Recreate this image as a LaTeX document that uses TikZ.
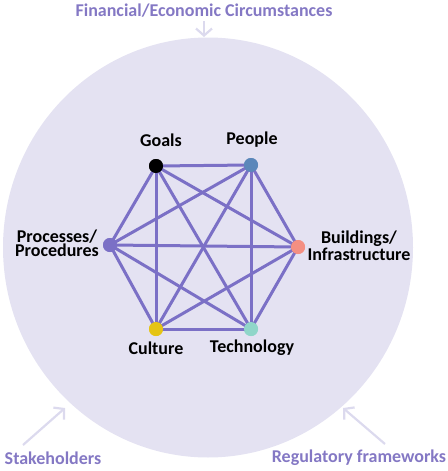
\documentclass[tikz,border=0pt]{standalone}
\usepackage{fontspec}
\setmainfont{Carlito}
\usetikzlibrary{arrows.meta}
\definecolor{bgfill}{HTML}{E4E2F2}
\definecolor{edgec}{HTML}{7B70C6}
\definecolor{outertxt}{HTML}{8478C4}
\definecolor{arrc}{HTML}{DCDAEE}
\definecolor{cpeople}{HTML}{5B87BA}
\definecolor{cproc}{HTML}{7B70C6}
\definecolor{cbuild}{HTML}{F48F82}
\definecolor{ccult}{HTML}{E5C414}
\definecolor{ctech}{HTML}{90D6C9}
\tikzset{
  dot/.style={circle,inner sep=0pt,minimum size=14pt},
  lbl/.style={font=\fontsize{18}{13.5}\selectfont\bfseries,text=black,inner sep=0pt,align=center},
  outer/.style={font=\fontsize{18}{13.5}\selectfont\bfseries,text=outertxt,inner sep=0pt},
  edge/.style={draw=edgec,line width=3pt},
  infl/.style={draw=arrc,line width=2.2pt,-{Straight Barb[length=7pt,width=16pt,line width=2.2pt]}},
}
\begin{document}
\begin{tikzpicture}[x=1pt,y=-1pt]
\useasboundingbox (0,0) rectangle (447,471);
\fill[bgfill] (208,247.5) ellipse [x radius=205, y radius=210];
% nodes
\node[dot,fill=black] (goals) at (156,166) {};
\node[dot,fill=cpeople] (people) at (251,165) {};
\node[dot,fill=cproc] (proc) at (110,245) {};
\node[dot,fill=cbuild] (build) at (298,247) {};
\node[dot,fill=ccult] (cult) at (156,329) {};
\node[dot,fill=ctech] (tech) at (251,329) {};
% edges (complete graph)
\foreach \a/\b in {goals/people,goals/proc,goals/build,goals/cult,goals/tech,
  people/proc,people/build,people/cult,people/tech,
  proc/build,proc/cult,proc/tech,
  build/cult,build/tech,
  cult/tech}
  \draw[edge] (\a.center) -- (\b.center);
% redraw dots on top
\node[dot,fill=black] at (goals) {};
\node[dot,fill=cpeople] at (people) {};
\node[dot,fill=cproc] at (proc) {};
\node[dot,fill=cbuild] at (build) {};
\node[dot,fill=ccult] at (cult) {};
\node[dot,fill=ctech] at (tech) {};
% labels
\node[lbl] (lgoals) at (161,140) {Goals};
\node[lbl] (lpeople) at (252,140) {People};
\node[lbl] (lproc) at (57,243) {Processes/\\Procedures};
\node[lbl] (lbuild) at (359,246) {Buildings/\\Infrastructure};
\node[lbl] (lcult) at (156,348) {Culture};
\node[lbl] (ltech) at (252,348) {Technology};
% outer influences
\node[outer] (fin) at (204,11) {Financial/Economic Circumstances};
\node[outer] (stake) at (53,458) {Stakeholders};
\node[outer] (reg) at (359,458) {Regulatory frameworks};
\coordinate (fintop) at (204,21);
\coordinate (finend) at (204,37);
\coordinate (stk0) at (23,445);
\coordinate (stk1) at (65,408);
\coordinate (reg0) at (385,444);
\coordinate (reg1) at (343,408);
\draw[infl] (fintop) -- (finend);
\draw[infl] (stk0) -- (stk1);
\draw[infl] (reg0) -- (reg1);
\end{tikzpicture}
\end{document}
